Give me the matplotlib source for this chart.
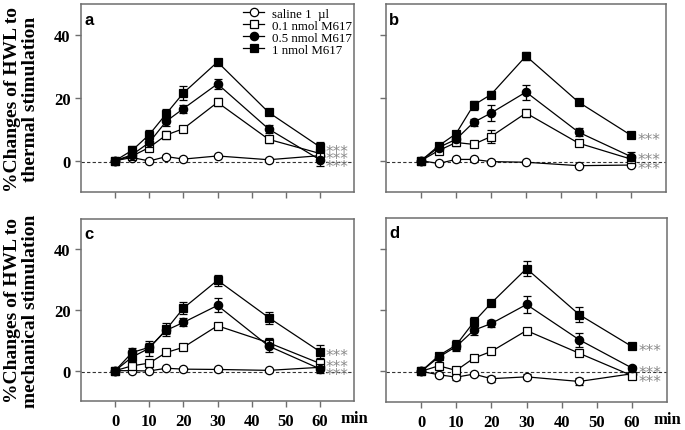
import matplotlib
matplotlib.use("Agg")
import matplotlib.pyplot as plt
import numpy as np

times = [0, 5, 10, 15, 20, 30, 45, 60]
series_labels = ["saline 1  µl", "0.1 nmol M617", "0.5 nmol M617", "1 nmol M617"]

# Panel a: thermal, intrathecal
a_saline = [0, 1.0, -0.1, 1.3, 0.5, 1.5, 0.3, 1.6]
a_01 = [0, 1.5, 4.2, 8.2, 10.2, 18.6, 6.8, 2.3]
a_05 = [0, 1.9, 5.8, 12.6, 16.6, 24.5, 10.1, 0.3]
a_1 = [0, 3.3, 8.3, 15.0, 21.6, 31.5, 15.4, 4.4]
a_saline_err = [0, 0.4, 0.4, 0.4, 0.4, 0.4, 0.4, 0.4]
a_01_err = [0, 0.8, 1.0, 1.3, 1.0, 1.3, 1.2, 1.0]
a_05_err = [0, 0.8, 1.3, 1.5, 1.3, 1.5, 1.3, 2.0]
a_1_err = [0, 1.5, 1.5, 1.6, 2.3, 1.1, 0.8, 1.5]

# Panel b
b_saline = [0, -0.9, 0.4, 0.4, -0.3, -0.5, -1.6, -1.4]
b_01 = [0, 3.2, 5.8, 5.2, 7.7, 15.2, 5.6, 0.5]
b_05 = [0, 4.2, 6.8, 12.2, 15.2, 21.9, 9.1, 1.3]
b_1 = [0, 4.7, 8.6, 17.7, 21.1, 33.4, 18.7, 8.1]
b_saline_err = [0, 0.4, 0.4, 0.4, 0.4, 0.4, 0.4, 0.4]
b_01_err = [0, 1.0, 1.0, 0.6, 2.0, 1.2, 1.0, 1.0]
b_05_err = [0, 0.8, 1.0, 1.2, 2.5, 2.4, 1.3, 1.5]
b_1_err = [0, 0.8, 1.0, 1.5, 1.2, 1.3, 0.8, 0.8]

# Panel c: mechanical
c_saline = [0, 0.0, -0.1, 0.8, 0.5, 0.4, 0.1, 1.1]
c_01 = [0, 1.6, 2.5, 6.0, 7.7, 14.8, 9.2, 2.4]
c_05 = [0, 6.0, 7.7, 13.3, 15.9, 21.5, 8.1, 0.6]
c_1 = [0, 4.5, 7.4, 13.6, 20.6, 29.8, 17.5, 6.3]
c_saline_err = [0, 0.4, 0.4, 0.4, 0.4, 0.4, 0.4, 0.4]
c_01_err = [0, 0.6, 0.6, 0.8, 0.6, 0.8, 1.5, 1.0]
c_05_err = [0, 1.5, 1.5, 1.2, 1.3, 2.3, 2.0, 1.5]
c_1_err = [0, 1.5, 2.5, 2.2, 2.0, 1.8, 2.0, 2.0]

# Panel d
d_saline = [0, -1.1, -1.9, -0.9, -2.4, -1.8, -3.3, -0.8]
d_01 = [0, 1.8, 0.3, 4.3, 6.5, 13.3, 5.9, -1.4]
d_05 = [0, 4.6, 8.1, 13.4, 15.6, 21.8, 10.3, 1.1]
d_1 = [0, 5.1, 8.6, 16.1, 22.3, 33.5, 18.5, 8.1]
d_saline_err = [0, 0.8, 0.8, 0.5, 1.0, 0.8, 1.0, 0.5]
d_01_err = [0, 0.8, 0.6, 0.6, 0.6, 0.8, 0.6, 0.6]
d_05_err = [0, 0.8, 1.5, 1.5, 1.2, 2.8, 2.3, 0.6]
d_1_err = [0, 0.8, 1.5, 1.5, 0.6, 2.4, 2.5, 0.8]

# y-values for the *** annotations (three per panel)
stars_a = [4.3, 2.1, -0.4]
stars_b = [8.1, 1.8, -1.1]
stars_c = [6.3, 2.7, 0.1]
stars_d = [8.1, 1.2, -1.8]

panels = [
    ("a", [a_saline, a_01, a_05, a_1], [a_saline_err, a_01_err, a_05_err, a_1_err], stars_a),
    ("b", [b_saline, b_01, b_05, b_1], [b_saline_err, b_01_err, b_05_err, b_1_err], stars_b),
    ("c", [c_saline, c_01, c_05, c_1], [c_saline_err, c_01_err, c_05_err, c_1_err], stars_c),
    ("d", [d_saline, d_01, d_05, d_1], [d_saline_err, d_01_err, d_05_err, d_1_err], stars_d),
]

markers = ["o", "s", "o", "s"]
filled = [False, False, True, True]

serif = "Liberation Serif"
sans = "Liberation Sans"
spine_col = "#6e6e6e"

fig = plt.figure(figsize=(6.85, 4.31), dpi=100)
W, H = 685, 431
boxes = {
    "a": (81, 5, 354, 193),
    "b": (386, 5, 666, 193),
    "c": (81, 220, 354, 402),
    "d": (386, 219, 667, 403),
}

for name, ys, errs, stars in panels:
    l, t, r, b = boxes[name]
    ax = fig.add_axes([l / W, 1 - b / H, (r - l) / W, (b - t) / H])
    ax.axhline(-0.3, color="#333333", lw=0.8, ls=(0, (3, 2)), zorder=1)
    for i in range(4):
        mfc = "black" if filled[i] else "white"
        ax.errorbar(times, ys[i], yerr=errs[i], fmt="none", ecolor="black",
                    capsize=2.8, elinewidth=0.9, capthick=0.9, zorder=3 + i)
        ax.plot(times, ys[i], color="black", lw=0.9, marker=markers[i], ms=6,
                mfc=mfc, mec="black", mew=0.9, zorder=3 + i, label=series_labels[i])
    for s in stars:
        ax.annotate("***", xy=(61.8, s), xytext=(0, -6.4), textcoords="offset points",
                    color="#8a8a8a", fontsize=11, family="DejaVu Sans",
                    va="baseline", ha="left", annotation_clip=False)
    ax.set_xlim(-10, 70)
    ax.set_ylim(-10, 50)
    ax.set_xticks(range(0, 61, 10))
    ax.set_yticks([0, 20, 40])
    for sp in ax.spines.values():
        sp.set_color(spine_col)
        sp.set_linewidth(1.1)
    ax.tick_params(direction="out", length=4, width=1.0, color=spine_col)
    ax.tick_params(axis="x", pad=5)
    if name in ("a", "c"):
        ax.set_yticklabels(["0", "20", "40"], fontfamily=serif, fontweight="bold", fontsize=12)
    else:
        ax.set_yticklabels([])
    if name in ("c", "d"):
        ax.set_xticklabels([str(v) for v in range(0, 61, 10)], fontfamily=serif,
                           fontweight="bold", fontsize=12)
        ax.text(1.0, -0.095, "min", transform=ax.transAxes, fontfamily=serif,
                fontweight="bold", fontsize=12, ha="center", va="center", clip_on=False)
    else:
        ax.set_xticklabels([])
    ax.text(0.012, 0.92, name, transform=ax.transAxes, fontfamily=sans,
            fontweight="bold", fontsize=12, ha="left", va="center")
    if name == "a":
        leg = ax.legend(loc="upper right", bbox_to_anchor=(1.03, 1.035), frameon=False,
                        prop={"family": serif, "size": 9.3}, handlelength=1.6,
                        handletextpad=0.6, labelspacing=0.0, borderpad=0.3)

fig.text(0.031, 1 - 99 / H, "%Changes of HWL to\nthermal stimulation", rotation=90,
         ha="center", va="center", multialignment="center", fontfamily=serif,
         fontweight="bold", fontsize=14, linespacing=1.1)
fig.text(0.031, 1 - 311 / H, "%Changes of HWL to\nmechanical stimulation", rotation=90,
         ha="center", va="center", multialignment="center", fontfamily=serif,
         fontweight="bold", fontsize=14, linespacing=1.1)

fig.savefig("out.png", dpi=100)
